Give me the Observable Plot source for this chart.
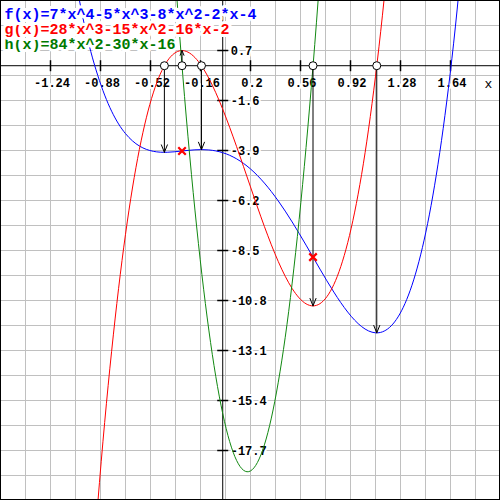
<!DOCTYPE html>
<html><head><meta charset="utf-8">
<script src="https://cdn.jsdelivr.net/npm/d3@7"></script>
<script src="https://cdn.jsdelivr.net/npm/@observablehq/plot@0.6"></script>
<style>body{margin:0;background:#fff}#chart{width:500px;height:500px}</style>
</head><body><div id="chart"></div>
<script>
// curve samples
const fX = [-1.1,-1.0,-0.9,-0.8,-0.7,-0.6,-0.5,-0.4,-0.3,-0.2,-0.1,0,0.1,0.2,0.3,0.4,0.5,0.6,0.7,0.8,0.9,1.0,1.1,1.2,1.3,1.4,1.5,1.6,1.7,1.8];
const fY = [5.4237,2.0,-0.4423,-2.0928,-3.1243,-3.6928,-3.9375,-3.9808,-3.9283,-3.8688,-3.8743,-4.0,-4.2843,-4.7488,-5.3983,-6.2208,-7.1875,-8.2528,-9.3543,-10.4128,-11.3323,-12.0,-12.2863,-12.0448,-11.1123,-9.3088,-6.4375,-2.2848,3.3797,10.8032];
const gX = [-1.0,-0.9,-0.8,-0.7,-0.6,-0.5,-0.4,-0.3,-0.2,-0.1,0,0.1,0.2,0.3,0.4,0.5,0.6,0.7,0.8,0.9,1.0,1.1,1.2,1.3];
const gY = [-29,-20.162,-13.136,-7.754,-3.848,-1.25,0.208,0.694,0.376,-0.578,-2,-3.722,-5.576,-7.394,-9.008,-10.25,-10.952,-10.946,-10.064,-8.138,-5,-0.482,5.584,13.366];
const hX = [-0.4,-0.3,-0.2,-0.1,0,0.1,0.2,0.3,0.4,0.5,0.6,0.7,0.8];
const hY = [9.44,0.56,-6.64,-12.16,-16,-18.16,-18.64,-17.44,-14.56,-10,-3.76,4.16,13.76];

// special points
const gRoots = [-0.42, -0.153, 1.109];
const fAtGRoots = [-3.983, -3.860, -12.289];
const hRoots = [-0.293, 0.650];
const gAtHRoots = [0.696, -11.048];
const fAtHRoots = [-3.923, -8.804];

// axes
const xDomain = [-1.6, 2.0];
const yDomain = [-20, 3];
const xGrid = [-1.6,-1.42,-1.24,-1.06,-0.88,-0.7,-0.52,-0.34,-0.16,0.02,0.2,0.38,0.56,0.74,0.92,1.1,1.28,1.46,1.64,1.82,2.0];
const yGrid = [3,1.85,0.7,-0.45,-1.6,-2.75,-3.9,-5.05,-6.2,-7.35,-8.5,-9.65,-10.8,-11.95,-13.1,-14.25,-15.4,-16.55,-17.7,-18.85,-20];
const xTicks = [-1.24,-0.88,-0.52,-0.16,0.2,0.56,0.92,1.28,1.64];
const xTickLabels = ["-1.24","-0.88","-0.52","-0.16","0.2","0.56","0.92","1.28","1.64"];
const yTicks = [0.7,-1.6,-3.9,-6.2,-8.5,-10.8,-13.1,-15.4,-17.7];
const yTickLabels = ["0.7","-1.6","-3.9","-6.2","-8.5","-10.8","-13.1","-15.4","-17.7"];
const axisLabel = "x";

const titles = ["f(x)=7*x^4-5*x^3-8*x^2-2*x-4", "g(x)=28*x^3-15*x^2-16*x-2", "h(x)=84*x^2-30*x-16"];
const titleColors = ["#0000ff", "#ff0000", "#007a00"];
const curveColors = ["#0000ff", "#ff0000", "#118811"];

const fData = fX.map((x, i) => ({x, y: fY[i]}));
const gData = gX.map((x, i) => ({x, y: gY[i]}));
const hData = hX.map((x, i) => ({x, y: hY[i]}));
const xTickData = xTicks.map((v, i) => ({v, label: xTickLabels[i]}));
const yTickData = yTicks.map((v, i) => ({v, label: yTickLabels[i]}));
const arrowsF = gRoots.map((x, i) => ({x, y: fAtGRoots[i]}));
const arrowsG = hRoots.map((x, i) => ({x, y: gAtHRoots[i]}));
const inflections = hRoots.map((x, i) => ({x, y: fAtHRoots[i]}));
const roots = [...gRoots, ...hRoots];

const vTick = {draw(ctx, size) { const r = Math.sqrt(size / Math.PI); ctx.moveTo(0, -r); ctx.lineTo(0, r); }};
const hTick = {draw(ctx, size) { const r = Math.sqrt(size / Math.PI); ctx.moveTo(-r, 0); ctx.lineTo(r, 0); }};

const mono = "Liberation Mono, DejaVu Sans Mono, monospace";

// titles drawn bottom row first so each row's halo sits under the row above
const titleMarks = [2, 1, 0].map(i => Plot.text([titles[i]], {frameAnchor: "top-left", text: d => d, dx: 4, dy: 13.5 + 15 * i,
  textAnchor: "start", lineAnchor: "middle", fontSize: 15, fontWeight: "bold", fontFamily: mono,
  fill: titleColors[i], stroke: "white", strokeWidth: 6}));

const chart = Plot.plot({
  width: 500, height: 500,
  margin: 0,
  x: {domain: xDomain, axis: null},
  y: {domain: yDomain, axis: null},
  style: {background: "white"},
  marks: [
    Plot.ruleX(xGrid, {stroke: "#c0c0c0", strokeWidth: 1}),
    Plot.ruleY(yGrid, {stroke: "#c0c0c0", strokeWidth: 1}),
    Plot.ruleY([0], {stroke: "black"}),
    Plot.ruleX([0], {stroke: "black"}),
    Plot.dot(xTicks, {x: d => d, y: () => 0, symbol: vTick, r: 5.5, stroke: "black", fill: "none"}),
    Plot.dot(yTicks, {y: d => d, x: () => 0, symbol: hTick, r: 5.5, stroke: "black", fill: "none"}),
    Plot.text(xTickData, {x: "v", y: () => 0, text: "label", dy: 17, dx: 1.5, textAnchor: "middle", lineAnchor: "middle",
      fontSize: 12, fontWeight: "bold", fontFamily: mono, fill: "black", stroke: "white", strokeWidth: 4}),
    Plot.text(yTickData, {y: "v", x: () => 0, text: "label", dx: 8, dy: 1, textAnchor: "start", lineAnchor: "middle",
      fontSize: 12, fontWeight: "bold", fontFamily: mono, fill: "black", stroke: "white", strokeWidth: 4}),
    Plot.text([axisLabel], {x: () => xDomain[1], y: () => 0, text: d => d, dx: -12, dy: 18, textAnchor: "middle", lineAnchor: "middle",
      fontSize: 13, fontFamily: mono, fill: "black"}),
    Plot.line(fData, {x: "x", y: "y", stroke: curveColors[0], strokeWidth: 1, curve: "natural", clip: true}),
    Plot.line(gData, {x: "x", y: "y", stroke: curveColors[1], strokeWidth: 1, curve: "natural", clip: true}),
    Plot.line(hData, {x: "x", y: "y", stroke: curveColors[2], strokeWidth: 1, curve: "natural", clip: true}),
    Plot.arrow(arrowsF, {x1: "x", x2: "x", y1: () => 0, y2: "y", stroke: "black", strokeWidth: 1, headLength: 12, headAngle: 44}),
    Plot.arrow(arrowsG, {x1: "x", x2: "x", y1: () => 0, y2: "y", stroke: "black", strokeWidth: 1, headLength: 12, headAngle: 44}),
    Plot.dot(inflections, {x: "x", y: "y", symbol: "times", r: 3.5, stroke: "#ff0000", strokeWidth: 2.2}),
    Plot.dot(roots, {x: d => d, y: () => 0, r: 4, fill: "white", stroke: "black", strokeWidth: 1}),
    ...titleMarks,
    Plot.frame({stroke: "black", insetRight: 1, insetBottom: 1})
  ]
});
document.getElementById("chart").appendChild(chart);
</script>
</body></html>
